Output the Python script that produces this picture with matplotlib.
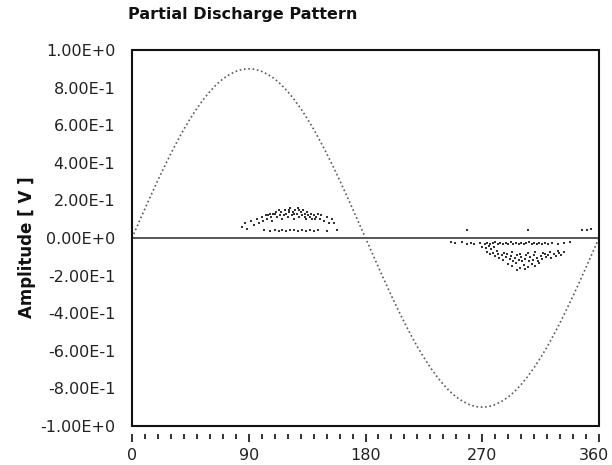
"""
Partial discharge pattern (PRPD) - phase vs amplitude scatter with the reference sine.
"""
import matplotlib
matplotlib.use("Agg")
import matplotlib.pyplot as plt
import matplotlib.transforms as mtransforms
from matplotlib.patches import Rectangle

plt.rcParams["font.family"] = "DejaVu Sans"

# reference voltage wave, read every 5 degrees (0..360)
wave_phase = list(range(0, 365, 5))
wave_amp = [
    0.000, 0.078, 0.156, 0.233, 0.308, 0.380, 0.450, 0.516, 0.579, 0.636,
    0.689, 0.737, 0.779, 0.816, 0.846, 0.869, 0.886, 0.897, 0.900, 0.897,
    0.886, 0.869, 0.846, 0.816, 0.779, 0.737, 0.689, 0.636, 0.579, 0.516,
    0.450, 0.380, 0.308, 0.233, 0.156, 0.078, 0.000, -0.078, -0.156, -0.233,
    -0.308, -0.380, -0.450, -0.516, -0.579, -0.636, -0.689, -0.737, -0.779, -0.816,
    -0.846, -0.869, -0.886, -0.897, -0.900, -0.897, -0.886, -0.869, -0.846, -0.816,
    -0.779, -0.737, -0.689, -0.636, -0.579, -0.516, -0.450, -0.380, -0.308, -0.233,
    -0.156, -0.078, 0.000,
]

# positive half-cycle discharges
pos_phase = [
    85, 87, 89, 92, 94, 96, 98, 100, 101, 103, 104, 106, 107, 108, 110, 111,
    112, 114, 115, 116, 118, 119, 120, 121, 122, 123, 124, 125, 126, 127, 128,
    129, 130, 131, 132, 133, 134, 135, 136, 138, 139, 140, 142, 143, 145, 146,
    148, 150, 152, 154, 156,
    105, 109, 113, 117, 121, 125, 129, 133, 137, 141,
    102, 106, 110, 113, 116, 119, 122, 125, 128, 131, 134, 137, 140, 143, 150, 158,
]
pos_amp = [
    0.06, 0.08, 0.05, 0.09, 0.07, 0.10, 0.08, 0.11, 0.09, 0.12, 0.10, 0.13, 0.11,
    0.09, 0.13, 0.14, 0.11, 0.12, 0.14, 0.10, 0.15, 0.13, 0.11, 0.15, 0.16, 0.12,
    0.14, 0.10, 0.15, 0.13, 0.16, 0.11, 0.14, 0.12, 0.15, 0.13, 0.10, 0.14, 0.12,
    0.13, 0.10, 0.12, 0.11, 0.13, 0.10, 0.12, 0.09, 0.11, 0.08, 0.10, 0.08,
    0.12, 0.13, 0.15, 0.12, 0.14, 0.13, 0.15, 0.11, 0.11, 0.10,
    0.040, 0.035, 0.040, 0.035, 0.040, 0.035, 0.040, 0.040, 0.035, 0.040, 0.035,
    0.040, 0.035, 0.040, 0.035, 0.040,
]

# negative half-cycle discharges
neg_phase = [
    246, 249, 254, 258, 261, 264, 268, 272, 274, 276, 278, 280, 282, 284, 286,
    288, 290, 292, 294, 296, 298, 300, 302, 304, 306, 308, 310, 312, 314, 316,
    318, 321, 324, 328, 333, 338,
    270, 273, 275, 277, 279,
    274, 276, 278, 280, 282, 283, 285, 286, 288, 289, 291, 292, 294, 295, 297,
    298, 300, 301, 303, 304, 306, 307, 309, 310, 312, 313, 315, 316, 318, 319,
    321, 323, 325, 327, 329, 331, 333,
    281, 287, 293, 299, 305, 311, 317, 322, 328,
    290, 293, 296, 299, 302, 305, 308, 311, 314, 297, 303,
    258, 305, 347, 351, 354,
]
neg_amp = [
    -0.020, -0.025, -0.022, -0.030, -0.025, -0.032, -0.028, -0.030, -0.025, -0.032,
    -0.028, -0.024, -0.030, -0.027, -0.033, -0.026, -0.030, -0.024, -0.031, -0.027,
    -0.033, -0.025, -0.030, -0.028, -0.024, -0.031, -0.027, -0.030, -0.025, -0.032,
    -0.028, -0.030, -0.026, -0.030, -0.025, -0.022,
    -0.050, -0.055, -0.045, -0.060, -0.050,
    -0.075, -0.085, -0.080, -0.095, -0.085, -0.105, -0.090, -0.115, -0.100, -0.085,
    -0.110, -0.095, -0.120, -0.105, -0.090, -0.115, -0.100, -0.125, -0.110, -0.090,
    -0.120, -0.100, -0.115, -0.090, -0.105, -0.120, -0.095, -0.110, -0.085, -0.100,
    -0.090, -0.105, -0.085, -0.095, -0.080, -0.090, -0.075,
    -0.070, -0.080, -0.075, -0.085, -0.080, -0.075, -0.080, -0.075, -0.070,
    -0.140, -0.150, -0.135, -0.160, -0.145, -0.155, -0.140, -0.150, -0.135, -0.170,
    -0.165,
    0.045, 0.045, 0.040, 0.045, 0.050,
]

y_ticks = [1.0, 0.8, 0.6, 0.4, 0.2, 0.0, -0.2, -0.4, -0.6, -0.8, -1.0]
y_labels = ["1.00E+0", "8.00E-1", "6.00E-1", "4.00E-1", "2.00E-1", "0.00E+0",
            "-2.00E-1", "-4.00E-1", "-6.00E-1", "-8.00E-1", "-1.00E+0"]
x_ticks = [0, 90, 180, 270, 360]


def main() -> None:
    fig = plt.figure(figsize=(6.12, 4.65), dpi=100)
    ax = fig.add_axes([0.2157, 0.0839, 0.7631, 0.8086])

    ax.axhline(0, color="#555555", lw=1.4, zorder=1)
    ax.plot(wave_phase, wave_amp, color="#5a5a5a", lw=1.2,
            linestyle=(0, (1, 1.6)), zorder=2)
    ax.scatter(pos_phase, pos_amp, s=3.5, marker="s", color="#333333",
               linewidths=0, zorder=3)
    ax.scatter(neg_phase, neg_amp, s=3.5, marker="s", color="#333333",
               linewidths=0, zorder=3)

    ax.set_xlim(0, 360)
    ax.set_ylim(-1, 1)
    ax.set_yticks(y_ticks)
    ax.set_yticklabels(y_labels)
    ax.set_xticks(x_ticks)
    ax.set_xticks(range(0, 361, 10), minor=True)

    # frame drawn separately so the x ticks can sit below it with a gap
    for side in ax.spines:
        ax.spines[side].set_visible(False)
    ax.spines["bottom"].set_position(("outward", 6))
    ax.add_patch(Rectangle((0, 0), 1, 1, transform=ax.transAxes, fill=False,
                           lw=1.5, edgecolor="#111111", clip_on=False, zorder=5))

    ax.tick_params(axis="y", length=0, pad=12, labelsize=11.5, labelcolor="#222222")
    ax.tick_params(axis="x", which="major", length=5.5, width=1.3, pad=4,
                   labelsize=11.5, labelcolor="#222222", color="#222222")
    ax.tick_params(axis="x", which="minor", length=3.5, width=1.3, color="#222222")

    # last label sits against the right edge, nudge it inside like the original
    last = ax.get_xticklabels()[-1]
    last.set_transform(last.get_transform()
                       + mtransforms.ScaledTranslation(-0.05, 0, fig.dpi_scale_trans))

    ax.set_ylabel("Amplitude [ V ]", fontsize=12, fontweight="bold",
                  va="center", color="#111111")
    ax.yaxis.set_label_coords(-0.225, 0.475)
    fig.text(128 / 612, 1 - 15 / 465, "Partial Discharge Pattern", fontsize=11.5,
             fontweight="bold", ha="left", va="center", color="#111111")

    fig.savefig("out.png", dpi=100)
    plt.close(fig)


if __name__ == "__main__":
    main()
